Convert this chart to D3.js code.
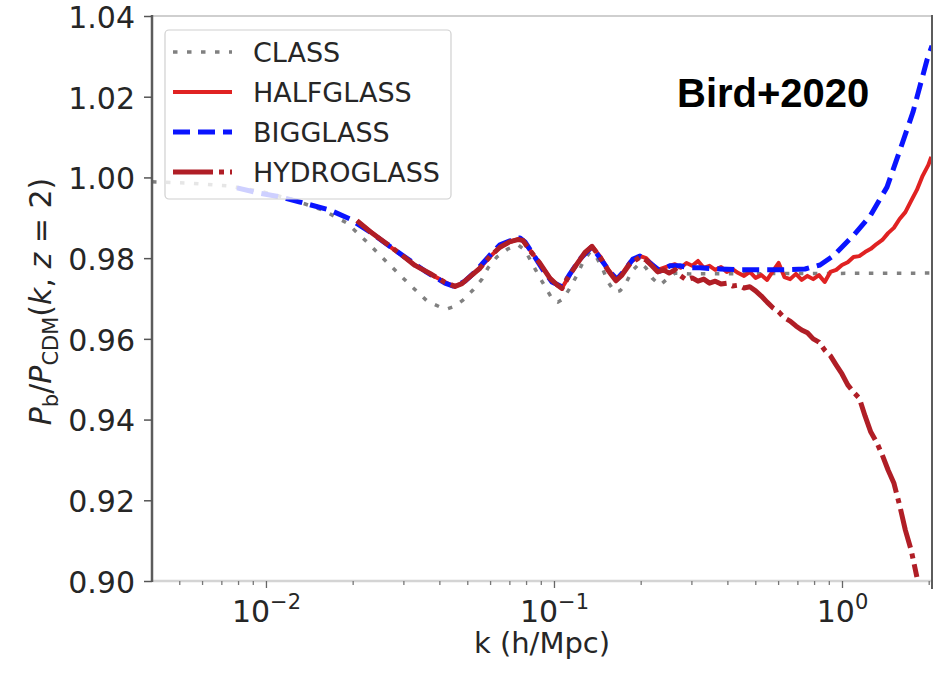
<!DOCTYPE html>
<html>
<head>
<meta charset="utf-8">
<script src="https://cdn.jsdelivr.net/npm/d3@7/dist/d3.min.js"></script>
<style>
  body { margin: 0; background: #fff; }
  svg { display: block; }
</style>
</head>
<body>
<svg id="chart" width="944" height="677"></svg>
<script>
// Linear-theory ratio (CLASS)
const classK = [0.004021, 0.005446, 0.007320, 0.009532, 0.012115, 0.015773, 0.019110, 0.022420, 0.026311, 0.030874,
  0.036232, 0.040194, 0.042510, 0.045315, 0.048310, 0.052333, 0.056234, 0.059000, 0.063398, 0.069230,
  0.074989, 0.079305, 0.084544, 0.089418, 0.094559, 0.099204, 0.10325, 0.10746, 0.11365, 0.12019,
  0.12609, 0.13335, 0.13988, 0.14797, 0.15399, 0.16282, 0.16952, 0.17640, 0.18655, 0.19887,
  0.20866, 0.21891, 0.23335, 0.24678, 0.26311, 0.29669, 2.0535];
const classRatio = [0.9989, 0.9986, 0.9979, 0.9966, 0.9947, 0.9919, 0.9887, 0.9840, 0.9790, 0.9741,
  0.9694, 0.9679, 0.9674, 0.9681, 0.9696, 0.9721, 0.9748, 0.9776, 0.9803, 0.9823,
  0.9833, 0.9820, 0.9783, 0.9751, 0.9721, 0.9696, 0.9691, 0.9699, 0.9726, 0.9758,
  0.9790, 0.9815, 0.9805, 0.9771, 0.9741, 0.9716, 0.9719, 0.9733, 0.9768, 0.9788,
  0.9776, 0.9751, 0.9733, 0.9748, 0.9763, 0.9761, 0.9763];

// Large-box simulation (BIGGLASS)
const bigK = [0.0079307, 0.0095316, 0.011183, 0.013124, 0.016681, 0.019573, 0.022965, 0.028050, 0.035655, 0.041834,
  0.045315, 0.049087, 0.053177, 0.056686, 0.060915, 0.064938, 0.070342, 0.076198, 0.079305, 0.084544,
  0.091583, 0.098414, 0.10660, 0.11365, 0.12311, 0.13551, 0.14444, 0.15648, 0.16548, 0.17640,
  0.18806, 0.19887, 0.21544, 0.23335, 0.25280, 0.27384, 0.29669, 0.32137, 0.37715, 0.44248,
  0.51925, 0.60915, 0.74391, 0.83885, 0.93057, 1.0919, 1.2510, 1.4330, 1.5900, 1.7641,
  1.9729, 2.0535];
const bigRatio = [0.9974, 0.9961, 0.9952, 0.9939, 0.9919, 0.9897, 0.9865, 0.9820, 0.9768, 0.9738,
  0.9729, 0.9743, 0.9766, 0.9788, 0.9813, 0.9833, 0.9843, 0.9850, 0.9840, 0.9810,
  0.9771, 0.9741, 0.9729, 0.9761, 0.9798, 0.9828, 0.9800, 0.9766, 0.9748, 0.9771,
  0.9798, 0.9805, 0.9788, 0.9768, 0.9781, 0.9781, 0.9776, 0.9776, 0.9773, 0.9771,
  0.9771, 0.9771, 0.9773, 0.9783, 0.9805, 0.9855, 0.9904, 0.9976, 1.0068, 1.0162,
  1.0291, 1.0326];

// Wavenumbers sampled by the two smaller-box simulations
const simK = [0.020703, 0.022965, 0.025893, 0.029199, 0.032913, 0.037106, 0.041834, 0.045315, 0.047924, 0.051095,
  0.055343, 0.059948, 0.064938, 0.070342, 0.074989, 0.078045, 0.082540, 0.089418, 0.096853, 0.10243,
  0.10660, 0.11184, 0.11923, 0.12812, 0.13551, 0.14444, 0.15399, 0.16413, 0.17222, 0.18358,
  0.19953, 0.20893, 0.21878, 0.22909, 0.23988, 0.25119, 0.26303, 0.27542, 0.28840, 0.30200,
  0.31623, 0.33113, 0.34674, 0.36308, 0.38019, 0.39811, 0.41687, 0.43652, 0.45709, 0.47863,
  0.50119, 0.52481, 0.54954, 0.57544, 0.60256, 0.63096, 0.66069, 0.69183, 0.72444, 0.75858,
  0.79433, 0.83176, 0.87096, 0.91201, 0.95499, 1.0000, 1.0471, 1.0965, 1.1482, 1.2023,
  1.2589, 1.3183, 1.3804, 1.4454, 1.5136, 1.5849, 1.6596, 1.7378, 1.8197, 1.9055,
  1.9953, 2.0417];

// Dark-matter-only simulation (HALFGLASS)
const halfRatio = [0.9892, 0.9867, 0.9838, 0.9810, 0.9783, 0.9761, 0.9741, 0.9729, 0.9738, 0.9753,
  0.9776, 0.9803, 0.9828, 0.9840, 0.9847, 0.9843, 0.9820, 0.9786, 0.9751, 0.9733,
  0.9726, 0.9751, 0.9783, 0.9813, 0.9830, 0.9805, 0.9773, 0.9746, 0.9761, 0.9790,
  0.9805, 0.9800, 0.9785, 0.9771, 0.9776, 0.9781, 0.9785, 0.9776, 0.9788, 0.9781,
  0.9793, 0.9776, 0.9781, 0.9771, 0.9778, 0.9766, 0.9773, 0.9763, 0.9756, 0.9766,
  0.9751, 0.9758, 0.9746, 0.9768, 0.9788, 0.9753, 0.9748, 0.9761, 0.9746, 0.9756,
  0.9748, 0.9758, 0.9741, 0.9766, 0.9771, 0.9783, 0.9790, 0.9803, 0.9805, 0.9815,
  0.9823, 0.9835, 0.9845, 0.9862, 0.9875, 0.9897, 0.9914, 0.9942, 0.9969, 1.0004,
  1.0031, 1.0051];

// Hydrodynamic simulation (HYDROGLASS), ends at k ~ 1.8
const hydroRatio = [0.9893, 0.9866, 0.9839, 0.9811, 0.9782, 0.9762, 0.9740, 0.9730, 0.9737, 0.9754,
  0.9775, 0.9804, 0.9827, 0.9841, 0.9846, 0.9844, 0.9819, 0.9787, 0.9750, 0.9734,
  0.9725, 0.9752, 0.9782, 0.9814, 0.9829, 0.9803, 0.9770, 0.9744, 0.9758, 0.9786,
  0.9803, 0.9795, 0.9781, 0.9766, 0.9771, 0.9763, 0.9771, 0.9756, 0.9746, 0.9751,
  0.9743, 0.9748, 0.9738, 0.9743, 0.9736, 0.9738, 0.9731, 0.9733, 0.9726, 0.9729,
  0.9719, 0.9706, 0.9691, 0.9677, 0.9667, 0.9652, 0.9644, 0.9632, 0.9622, 0.9615,
  0.9600, 0.9592, 0.9572, 0.9558, 0.9535, 0.9513, 0.9486, 0.9468, 0.9453, 0.9409,
  0.9369, 0.9344, 0.9312, 0.9275, 0.9243, 0.9188, 0.9126, 0.9077, 0.9010];

const seriesNames = ["CLASS", "HALFGLASS", "BIGGLASS", "HYDROGLASS"];
const yTicks = [0.90, 0.92, 0.94, 0.96, 0.98, 1.00, 1.02, 1.04];
const xMajorTicks = [0.01, 0.1, 1];
const xMajorExponents = ["\u22122", "\u22121", "0"];
const xMinorTicks = [0.005, 0.006, 0.007, 0.008, 0.009, 0.02, 0.03, 0.04, 0.05, 0.06, 0.07, 0.08, 0.09,
  0.2, 0.3, 0.4, 0.5, 0.6, 0.7, 0.8, 0.9, 2];

const zip = (ks, vs) => vs.map((v, i) => [ks[i], v]);

const series = [
  { name: seriesNames[0], data: zip(classK, classRatio), color: "#808080", width: 3.5, dash: "4.5,9.5" },
  { name: seriesNames[1], data: zip(simK, halfRatio), color: "#e02222", width: 4, dash: null },
  { name: seriesNames[2], data: zip(bigK, bigRatio), color: "#0a14ff", width: 5, dash: "17,8" },
  { name: seriesNames[3], data: zip(simK, hydroRatio), color: "#b01e26", width: 5, dash: "40,6,5,6" }
];

const svg = d3.select("#chart");
const plotL = 152, plotR = 932, plotT = 16, plotB = 581;

const x = d3.scaleLog().domain([0.004021, 2.0535]).range([plotL, plotR]);
const y = d3.scaleLinear().domain([0.90, 1.04]).range([plotB, plotT]);

const font = "'DejaVu Sans', sans-serif";
const textColor = "#262626";

svg.append("defs").append("clipPath").attr("id", "plotClip")
  .append("rect").attr("x", plotL).attr("y", plotT - 4).attr("width", plotR - plotL).attr("height", plotB - plotT + 4);

// curves
const line = d3.line().x(d => x(d[0])).y(d => y(d[1]));
const curves = svg.append("g").attr("clip-path", "url(#plotClip)");
series.forEach(s => {
  curves.append("path")
    .datum(s.data)
    .attr("d", line)
    .attr("fill", "none")
    .attr("stroke", s.color)
    .attr("stroke-width", s.width)
    .attr("stroke-linejoin", "round")
    .attr("stroke-dasharray", s.dash);
});

// frame
const frame = svg.append("g");
frame.append("line").attr("x1", plotL).attr("x2", plotR).attr("y1", plotT).attr("y2", plotT)
  .attr("stroke", "#cfcfcf").attr("stroke-width", 2);
frame.append("line").attr("x1", plotL).attr("x2", plotR).attr("y1", plotB).attr("y2", plotB)
  .attr("stroke", "#d4d4d4").attr("stroke-width", 2.5);
frame.append("line").attr("x1", plotL).attr("x2", plotL).attr("y1", plotT - 1).attr("y2", plotB + 1)
  .attr("stroke", "#5c5c5c").attr("stroke-width", 2.5);
frame.append("line").attr("x1", plotR).attr("x2", plotR).attr("y1", plotT - 1).attr("y2", plotB + 8)
  .attr("stroke", "#5c5c5c").attr("stroke-width", 2);

// y axis
const yAxis = svg.append("g").attr("transform", `translate(${plotL},0)`)
  .call(d3.axisLeft(y).tickValues(yTicks).tickFormat(d3.format(".2f")).tickSize(8).tickPadding(9));
yAxis.select(".domain").remove();
yAxis.selectAll(".tick line").attr("stroke", "#555").attr("stroke-width", 1.5);
yAxis.selectAll(".tick text").attr("font-family", font).attr("font-size", 30)
  .attr("fill", textColor).attr("dy", "0.38em");

// x axis: minor ticks
const xMinor = svg.append("g").attr("transform", `translate(0,${plotB})`)
  .call(d3.axisBottom(x).tickValues(xMinorTicks).tickFormat("").tickSize(4));
xMinor.select(".domain").remove();
xMinor.selectAll(".tick line").attr("stroke", "#777").attr("stroke-width", 1.3);

// x axis: major ticks with power-of-ten labels
const xMajor = svg.append("g").attr("transform", `translate(0,${plotB})`)
  .call(d3.axisBottom(x).tickValues(xMajorTicks).tickSize(7));
xMajor.select(".domain").remove();
xMajor.selectAll(".tick line").attr("stroke", "#666").attr("stroke-width", 1.3);
xMajor.selectAll(".tick text").each(function(d, i) {
  const t = d3.select(this).text(null)
    .attr("y", 41).attr("dy", null)
    .attr("font-family", font).attr("font-size", 30).attr("fill", textColor);
  t.append("tspan").text("10");
  t.append("tspan").attr("font-size", 21).attr("dy", -13).text(xMajorExponents[i]);
});

// axis titles
svg.append("text")
  .attr("x", (plotL + plotR) / 2).attr("y", 653)
  .attr("text-anchor", "middle")
  .attr("font-family", font).attr("font-size", 29).attr("fill", textColor)
  .text("k (h/Mpc)");

const yTitle = svg.append("text")
  .attr("transform", `translate(51,${(plotT + plotB) / 2 + 3}) rotate(-90)`)
  .attr("text-anchor", "middle")
  .attr("font-family", font).attr("font-size", 30).attr("fill", textColor);
yTitle.append("tspan").attr("font-style", "italic").text("P");
yTitle.append("tspan").attr("font-size", 21).attr("dy", 7).text("b");
yTitle.append("tspan").attr("dy", -7).text("/");
yTitle.append("tspan").attr("font-style", "italic").text("P");
yTitle.append("tspan").attr("font-size", 21).attr("dy", 7).text("CDM");
yTitle.append("tspan").attr("dy", -7).text("(");
yTitle.append("tspan").attr("font-style", "italic").text("k");
yTitle.append("tspan").text(", ");
yTitle.append("tspan").attr("font-style", "italic").text("z");
yTitle.append("tspan").text(" = 2)");

// legend
const legend = svg.append("g");
legend.append("rect")
  .attr("x", 165).attr("y", 30).attr("width", 286).attr("height", 169)
  .attr("rx", 4).attr("fill", "#fff").attr("fill-opacity", 0.8)
  .attr("stroke", "#d0d0d0").attr("stroke-width", 1.2);
series.forEach((s, i) => {
  const ly = 52 + i * 40;
  legend.append("line")
    .attr("x1", 173).attr("x2", 232).attr("y1", ly).attr("y2", ly)
    .attr("stroke", s.color).attr("stroke-width", s.width)
    .attr("stroke-dasharray", s.dash);
  legend.append("text")
    .attr("x", 253).attr("y", ly).attr("dy", "0.36em")
    .attr("font-family", font).attr("font-size", 27).attr("fill", textColor)
    .text(s.name);
});

// annotation
svg.append("text")
  .attr("x", 677).attr("y", 107)
  .attr("font-family", "'Liberation Sans', Arial, Helvetica, sans-serif")
  .attr("font-weight", "bold").attr("font-size", 40).attr("fill", "#000")
  .text("Bird+2020");
</script>
</body>
</html>
